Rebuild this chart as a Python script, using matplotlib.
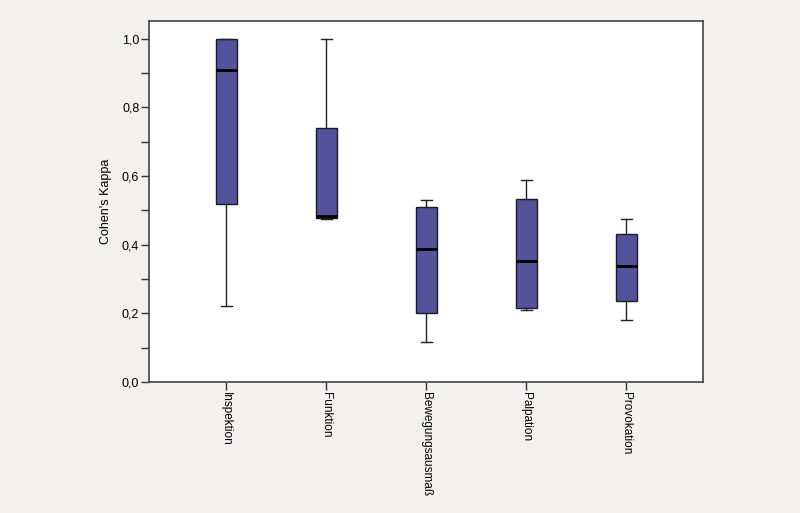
import matplotlib
matplotlib.use("Agg")
import matplotlib.pyplot as plt
from matplotlib.ticker import MultipleLocator, FuncFormatter

categories = ["Inspektion", "Funktion", "Bewegungsausmaß", "Palpation", "Provokation"]
whisker_low = [0.22, 0.475, 0.117, 0.209, 0.181]
q1 = [0.519, 0.478, 0.200, 0.216, 0.236]
median = [0.909, 0.483, 0.388, 0.353, 0.338]
q3 = [1.0, 0.740, 0.510, 0.534, 0.430]
whisker_high = [1.0, 1.0, 0.529, 0.588, 0.475]

plt.rcParams['font.family'] = ['Liberation Sans', 'DejaVu Sans']

bg = "#f2f1ef"
fig = plt.figure(figsize=(8, 5.13), dpi=100, facecolor=bg)
ax = fig.add_axes([0.18625, 0.2554, 0.6925, 0.7037])
ax.set_facecolor("white")

stats = []
for i, c in enumerate(categories):
    stats.append(dict(label=c, whislo=whisker_low[i], q1=q1[i], med=median[i],
                      q3=q3[i], whishi=whisker_high[i], fliers=[]))

pos = list(range(len(categories)))
ax.bxp(stats, positions=pos, widths=0.21, capwidths=0.11, patch_artist=True, showfliers=False,
       boxprops=dict(facecolor="#53539b", edgecolor="#1a1a2a", linewidth=1.0),
       medianprops=dict(color="black", linewidth=2.0),
       whiskerprops=dict(color="#222222", linewidth=1.0),
       capprops=dict(color="#222222", linewidth=1.0))

ax.set_xlim(-0.77, 4.77)
ax.set_ylim(0, 1.052)
ax.set_xticks(pos)
ax.set_xticklabels(categories, rotation=270, va="top", ha="center", fontsize=8.5)
ax.yaxis.set_major_locator(MultipleLocator(0.2))
ax.yaxis.set_minor_locator(MultipleLocator(0.1))
ax.yaxis.set_major_formatter(FuncFormatter(lambda v, p: f"{v:.1f}".replace(".", ",")))
ax.tick_params(axis="y", which="major", length=6, width=1, labelsize=9, color="#333333", pad=1)
ax.tick_params(axis="y", which="minor", length=6, width=1, color="#333333")
ax.tick_params(axis="x", length=6, width=1, color="#333333", pad=1)
for s in ax.spines.values():
    s.set_color("#444444")
    s.set_linewidth(1.2)
ax.set_ylabel("Cohen's Kappa", fontsize=9, labelpad=7)

fig.savefig("out.png", dpi=100, facecolor=bg)
